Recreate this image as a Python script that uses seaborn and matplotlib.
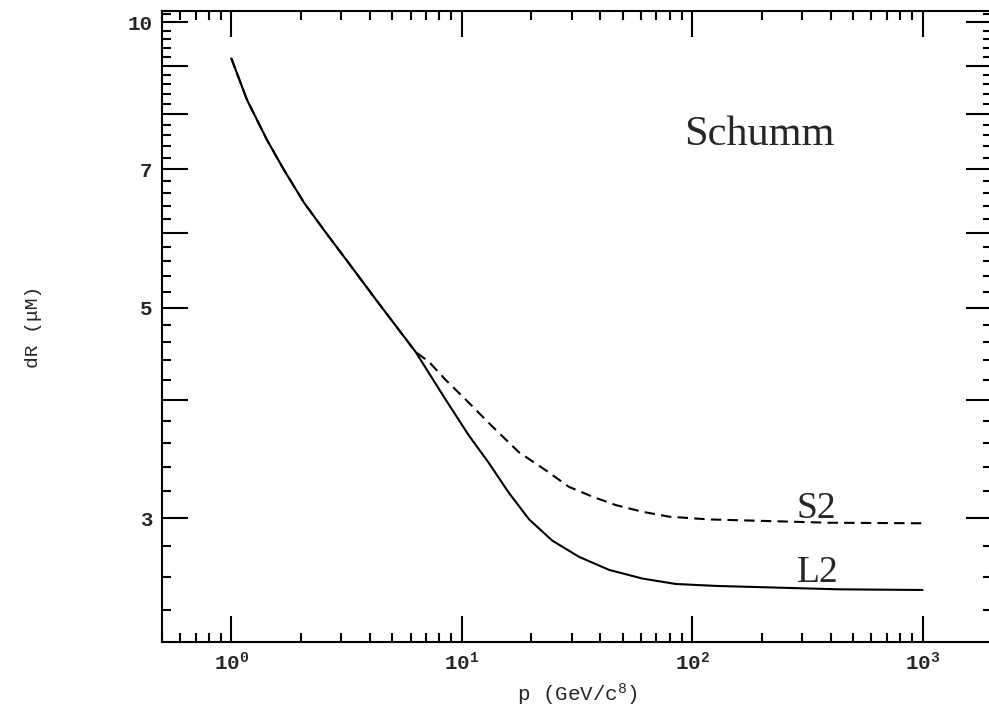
import numpy as np
import pandas as pd
import seaborn as sns
import matplotlib.pyplot as plt
from matplotlib import ticker

# curve: momentum p (GeV/c) against dR
p_l2 = [1.0, 1.17, 1.43, 1.69, 2.07, 2.52, 3.08, 3.64, 4.37, 6.31, 8.51, 10.7,
        13.1, 16.0, 19.6, 24.7, 32.3, 43.6, 60.8, 84.9, 127, 434, 1000]
dR_l2 = [9.16, 8.28, 7.51, 6.99, 6.45, 6.04, 5.66, 5.36, 5.05, 4.49, 4.00, 3.67,
         3.43, 3.19, 2.99, 2.84, 2.73, 2.645, 2.59, 2.556, 2.544, 2.523, 2.519]

p_s2 = [1.0, 1.17, 1.43, 1.69, 2.07, 2.52, 3.08, 3.64, 4.37, 6.31, 7.20, 8.51,
        10.4, 13.6, 17.7, 23.1, 29.2, 36.9, 46.6, 60.8, 79.4, 118, 393, 1000]
dR_s2 = [9.16, 8.28, 7.51, 6.99, 6.45, 6.04, 5.66, 5.36, 5.05, 4.49, 4.385, 4.196,
         4.00, 3.745, 3.52, 3.37, 3.236, 3.16, 3.096, 3.046, 3.01, 2.99, 2.966, 2.962]

y_ticks = [3, 4, 5, 6, 7, 8, 9, 10]
y_labels = ['3', '', '5', '', '7', '', '', '10']

sns.set_style('ticks')
plt.rcParams['font.family'] = ['Liberation Mono', 'DejaVu Sans']
plt.rcParams['mathtext.fontset'] = 'custom'
plt.rcParams['mathtext.rm'] = 'Liberation Mono'
plt.rcParams['mathtext.it'] = 'Liberation Mono:italic'
plt.rcParams['mathtext.bf'] = 'Liberation Mono:bold'

df = pd.DataFrame({
    'p': p_l2 + p_s2,
    'dR': dR_l2 + dR_s2,
    'curve': ['L2'] * len(p_l2) + ['S2'] * len(p_s2),
})

fig = plt.figure(figsize=(9.89, 7.12), dpi=100)
ax = fig.add_axes([0.1638, 0.0983, 0.8392, 0.8863])

sns.lineplot(data=df, x='p', y='dR', style='curve', ax=ax,
             dashes={'L2': '', 'S2': (5, 3)}, color='black',
             linewidth=1.5, legend=False, sort=False)

ax.set_xscale('log')
ax.set_yscale('log')
ax.set_xlim(0.5, 2000)
ax.set_ylim(2.22, 10.28)

# y axis: long ticks on every integer, labels only on some of them
ax.yaxis.set_major_locator(ticker.FixedLocator(y_ticks))
ax.yaxis.set_major_formatter(ticker.FixedFormatter(y_labels))
minor_y = [v for v in np.arange(2.2, 10.3, 0.2) if abs(v - round(v)) > 0.05]
ax.yaxis.set_minor_locator(ticker.FixedLocator(minor_y))
ax.yaxis.set_minor_formatter(ticker.NullFormatter())

ax.xaxis.set_major_locator(ticker.LogLocator(base=10))
ax.xaxis.set_minor_locator(ticker.LogLocator(base=10, subs=range(2, 10)))
ax.xaxis.set_minor_formatter(ticker.NullFormatter())

ax.tick_params(which='both', direction='in', top=True, right=True,
               color='black', width=1.5)
ax.tick_params(which='major', length=18.5, pad=7, labelsize=15)
ax.tick_params(which='minor', length=6.5)
for lab in ax.get_xticklabels() + ax.get_yticklabels():
    lab.set_fontweight('bold')

for sp in ax.spines.values():
    sp.set_linewidth(1.5)
    sp.set_color('black')

ax.set_xlabel('p (GeV/c$^8$)', fontsize=15)
ax.set_ylabel('dR (μM)', fontsize=14)
ax.xaxis.set_label_coords(0.5, -0.063)
ax.yaxis.set_label_coords(-0.145, 0.5)

ax.text(92, 7.42, 'Schumm', family='Liberation Serif', fontsize=30.5)
ax.text(285, 3.0, 'S2', family='Liberation Serif', fontsize=27)
ax.text(284, 2.57, 'L2', family='Liberation Serif', fontsize=27)

plt.savefig('out.png', dpi=100)
